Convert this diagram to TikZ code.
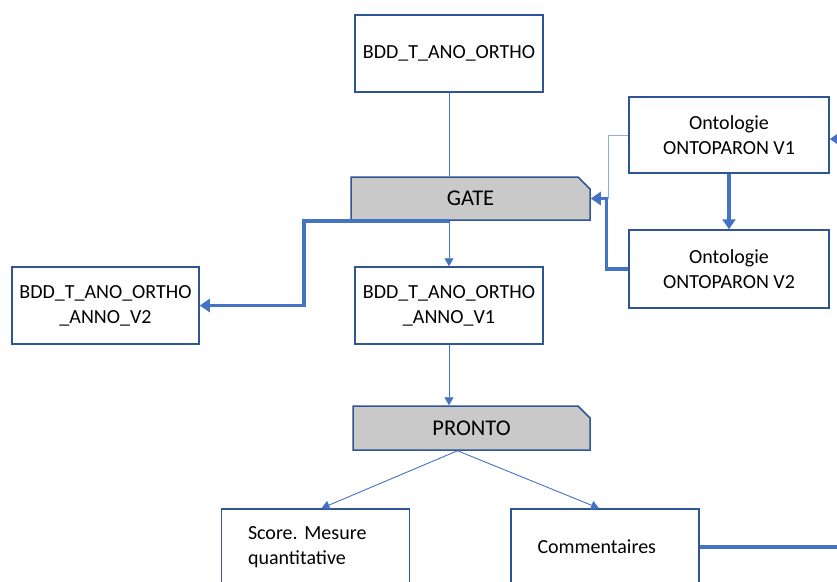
\documentclass[tikz,border=0pt]{standalone}
\usepackage{fontspec}
\setmainfont{Carlito}
\usetikzlibrary{arrows.meta,shapes.misc}
\definecolor{bordbleu}{HTML}{2F5597}
\definecolor{lienbleu}{HTML}{4472C4}
\definecolor{lienclair}{HTML}{8FAADC}
\definecolor{grisgate}{HTML}{C9C9C9}
\frenchspacing
\tikzstyle{boite}=[rectangle, draw=bordbleu, line width=1.5pt, fill=white, minimum width=188pt, minimum height=77pt, align=center, font=\fontsize{20}{25}\selectfont]
\tikzstyle{sortie}=[boite, align=left, text width=135pt, inner xsep=26pt]
\tikzstyle{outil}=[chamfered rectangle, chamfered rectangle corners=north east, chamfered rectangle xsep=6pt, chamfered rectangle ysep=6pt, draw=bordbleu, line width=1.5pt, fill=grisgate, minimum width=239pt, minimum height=43pt, inner sep=0pt, font=\fontsize{22.5}{27}\selectfont]
\tikzstyle{fin}=[draw=lienbleu, line width=0.9pt, -{Triangle[length=8pt, width=9pt]}]
\tikzstyle{epais}=[draw=lienbleu, line width=3.5pt, -{Triangle[length=10pt, width=13pt]}]

\begin{document}
\begin{tikzpicture}[x=1pt, y=-1pt]
                \clip (0,0) rectangle (837,581);
                \node[boite] (top) at (449, 53.5) {BDD\_T\_ANO\_ORTHO};
                \node[outil] (gate) at (470.5, 198.5) {GATE};
                \node[boite, minimum width=200pt, minimum height=76pt] (v1) at (729, 135) {Ontologie\\ONTOPARON V1};
                \node[boite, minimum width=200pt, minimum height=78pt] (v2) at (729, 269) {Ontologie\\ONTOPARON V2};
                \node[boite, minimum width=187pt] (bdd2) at (105.5, 305.5) {BDD\_T\_ANO\_ORTHO\\\_ANNO\_V2};
                \node[boite] (bdd1) at (449, 305.5) {BDD\_T\_ANO\_ORTHO\\\_ANNO\_V1};
                \node[outil, minimum width=237pt, minimum height=44pt] (pronto) at (471.5, 428) {PRONTO};
                \node[sortie, minimum height=76pt] (score) at (315.5, 547) {Score. Mesure\\quantitative};
                \node[sortie, minimum height=76pt] (comm) at (605, 547) {Commentaires};
                \coordinate (droite) at (837, 139);
                \coordinate (droite2) at (837, 547);
                \draw[draw=lienbleu, line width=0.9pt] (top) -- (top |- gate.north);
                \draw[fin] (bdd1 |- gate.south) -- (bdd1.north);
                \draw[fin] (bdd1.south) -- (bdd1 |- pronto.north);
                \draw[fin] ([xshift=-14pt]pronto.south) -- ([xshift=6pt]score.north);
                \draw[fin] ([xshift=-14pt]pronto.south) -- ([xshift=-6pt]comm.north);
                \draw[draw=lienclair, line width=0.9pt] (v1.west) -- ++(-20,0) |- (gate.east);
                \draw[epais] (bdd1 |- gate.south) -| ([xshift=104pt]bdd2.east) -- (bdd2.east);
                \draw[epais] (v2.west) -- ++(-22,0) |- (gate.east);
                \draw[epais] (v1) -- (v2);
                \draw[epais] (droite) -- (v1.east |- droite);
                \draw[epais, -] (comm.east) -- (droite2);
            \end{tikzpicture}
\end{document}
